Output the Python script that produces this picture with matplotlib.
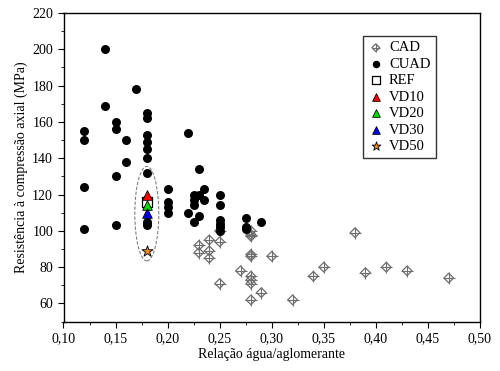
import numpy as np
import matplotlib
matplotlib.use('Agg')
import matplotlib.pyplot as plt
from matplotlib.patches import Ellipse
from matplotlib.legend_handler import HandlerTuple

plt.rcParams['font.family'] = ['Liberation Serif', 'DejaVu Serif']

# CAD (gray crossed diamonds)
cad_x = [0.23, 0.23, 0.24, 0.24, 0.24, 0.25, 0.25, 0.25, 0.27,
         0.28, 0.28, 0.28, 0.28, 0.28, 0.28, 0.28, 0.28, 0.28,
         0.29, 0.30, 0.32, 0.34, 0.35, 0.38, 0.39, 0.41, 0.43, 0.47]
cad_y = [92, 88, 95, 89, 85, 100, 94, 71, 78,
         100, 98, 97, 87, 86, 75, 73, 71, 62,
         66, 86, 62, 75, 80, 99, 77, 80, 78, 74]

# CUAD (black dots)
cuad_x = [0.12, 0.12, 0.12, 0.12,
          0.14, 0.14,
          0.15, 0.15, 0.15, 0.15,
          0.16, 0.16,
          0.17,
          0.18, 0.18, 0.18, 0.18, 0.18, 0.18, 0.18, 0.18, 0.18,
          0.20, 0.20, 0.20, 0.20,
          0.22, 0.22,
          0.225, 0.225, 0.225, 0.225,
          0.23, 0.23, 0.23,
          0.235, 0.235,
          0.25, 0.25, 0.25, 0.25, 0.25, 0.25,
          0.275, 0.275, 0.275,
          0.29]
cuad_y = [155, 150, 124, 101,
          200, 169,
          160, 156, 130, 103,
          150, 138,
          178,
          165, 162, 153, 149, 145, 140, 132, 105, 103,
          123, 116, 113, 110,
          154, 110,
          120, 117, 114, 105,
          134, 120, 108,
          123, 117,
          120, 114, 106, 104, 102, 100,
          107, 102, 101,
          105]

ref_x, ref_y = [0.18], [116]
vd10_x, vd10_y = [0.18], [119.5]
vd20_x, vd20_y = [0.18], [114.5]
vd30_x, vd30_y = [0.18], [110]
vd50_x, vd50_y = [0.18], [89]

fig = plt.figure(figsize=(5, 3.71), dpi=100)
ax = fig.add_axes([0.127, 0.133, 0.833, 0.832])

gray = '#6e6e6e'
h_cad1 = ax.scatter(cad_x, cad_y, marker='D', s=24, facecolors='none',
                    edgecolors=gray, linewidths=0.9, zorder=3)
h_cad2 = ax.scatter(cad_x, cad_y, marker='+', s=64, color=gray,
                    linewidths=0.8, zorder=3)
h_cuad = ax.scatter(cuad_x, cuad_y, marker='o', s=30, color='black', zorder=4)
h_ref = ax.scatter(ref_x, ref_y, marker='s', s=55, facecolors='white',
                   edgecolors='black', linewidths=0.9, zorder=5)
h_vd10 = ax.scatter(vd10_x, vd10_y, marker='^', s=48, color='red',
                    edgecolors='black', linewidths=0.6, zorder=6)
h_vd20 = ax.scatter(vd20_x, vd20_y, marker='^', s=48, color='#00dd00',
                    edgecolors='black', linewidths=0.6, zorder=6)
h_vd30 = ax.scatter(vd30_x, vd30_y, marker='^', s=48, color='#0000ee',
                    edgecolors='black', linewidths=0.6, zorder=6)
h_vd50 = ax.scatter(vd50_x, vd50_y, marker='*', s=70, color='#f08a1c',
                    edgecolors='black', linewidths=0.6, zorder=6)

ell = Ellipse((0.18, 109.5), 0.023, 52, fill=False, edgecolor='gray',
              linestyle=(0, (3, 1.5)), linewidth=0.8, zorder=2)
ax.add_patch(ell)

ax.set_xlim(0.10, 0.50)
ax.set_ylim(50, 220)
xt = np.arange(0.10, 0.501, 0.05)
ax.set_xticks(xt)
ax.set_xticklabels([f'{v:.2f}'.replace('.', ',') for v in xt])
ax.set_xticks(np.arange(0.125, 0.5, 0.05), minor=True)
ax.set_yticks(np.arange(60, 221, 20))
ax.set_yticks(np.arange(50, 221, 10), minor=True)
ax.tick_params(which='major', direction='out', length=4, labelsize=10)
ax.tick_params(which='minor', direction='out', length=2.5)
for s in ax.spines.values():
    s.set_linewidth(1.0)

ax.set_xlabel('Relação água/aglomerante', fontsize=10, labelpad=2)
ax.set_ylabel('Resistência à compressão axial (MPa)', fontsize=10, labelpad=3)

leg = ax.legend([(h_cad1, h_cad2), h_cuad, h_ref, h_vd10, h_vd20, h_vd30, h_vd50],
                ['CAD', 'CUAD', 'REF', 'VD10', 'VD20', 'VD30', 'VD50'],
                handler_map={tuple: HandlerTuple(ndivide=1, pad=0)},
                loc='upper left', bbox_to_anchor=(0.72, 0.925),
                borderaxespad=0, fontsize=10.5, frameon=True, fancybox=False,
                edgecolor='black', handletextpad=0.4, labelspacing=0.22,
                borderpad=0.35, handlelength=1.0, scatterpoints=1,
                markerscale=0.8)
leg.get_frame().set_linewidth(1.0)

plt.savefig('out.png', dpi=100)
